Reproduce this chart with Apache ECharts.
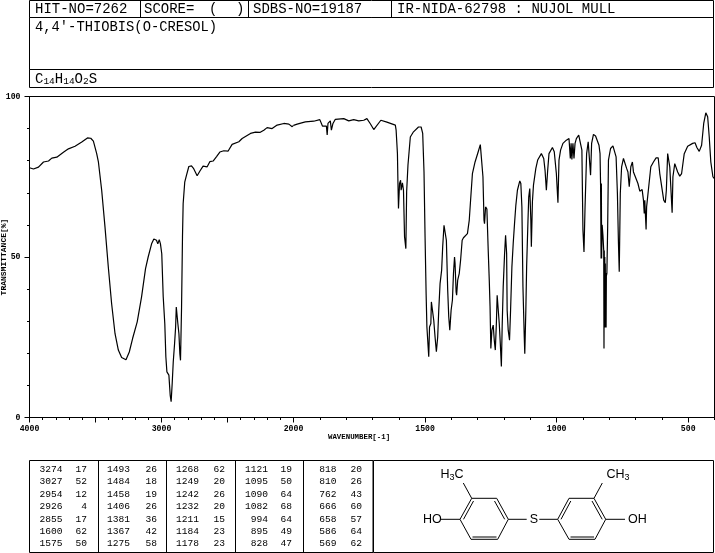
<!DOCTYPE html>
<html>
<head>
<meta charset="utf-8">
<style>html,body{margin:0;padding:0;background:#fff}#c{width:715px;height:553px}</style>
<script src="https://cdn.jsdelivr.net/npm/echarts@6/dist/echarts.min.js"></script>
</head>
<body>
<div id="c"></div>
<script>
// wavenumber (cm-1)
const wavenumbers = [
4000,3970,3932,3894,3856,3831,3793,3743,3705,3655,3604,3561,3536,3516,3491,3478,3453,3428,3403,3378,3352,3327,3302,3269,3244,3219,3184,3151,3121,3101,3075,3058,3038,3028,3017,3008,2998,2987,2975,2967,2959,2944,2934,2927,2919,2911,2901,2893,2888,2881,2876,2868,2861,2856,2848,2841,2836,2824,2811,2793,2773,2756,2730,2710,2685,2654,2634,2609,2583,2558,2528,2495,2465,2452,2414,2389,2326,2288,2255,2225,2200,2162,2124,2073,2035,2010,2000,
1986,1955,1923,1900,1890,1875,1872,1869,1860,1856,1850,1841,1809,1790,1771,1752,1733,1721,1708,1695,1688,1668,1645,1613,1610,1605,1603,1601,1597,1593,1591,1586,1582,1578,1573,1570,1565,1556,1544,1525,1515,1509,1504,1500,1496,1493,1490,1486,1483,1478,1476,1471,1467,1462,1457,1452,1448,1443,1437,1433,1428,1423,1419,1414,1410,1406,1401,1396,1392,1388,1386,1382,1380,1376,1370,1365,1359,1354,1347,1339,1332,1327,1320,1310,1298,1290,1284,1280,1276,1274,1270,1265,1260,1256,1253,1250,1246,1241,1237,1233,1229,1226,1222,1218,1214,1210,1207,1203,1198,1194,1190,1188,1184,1179,1175,1170,1165,1160,1155,1149,1140,1136,1132,1128,1123,1121,1117,1114,1109,1106,1102,1098,1096,1092,1088,1083,1079,1072,1058,1049,1044,1039,1034,1029,1016,1009,1001,995,991,985,976,963,953,948,945,942,938,934,930,925,916,910,904,900,896,892,886,880,875,871,867,860,852,839,835,833,831,830,829,827,824,821,820,819,818,817,816,815,814,813,812,811,809,806,803,795,786,779,774,769,765,762,758,753,746,739,734,729,724,718,712,708,702,691,684,675,670,667,665,660,658,650,642,632,622,614,608,603,593,587,583,578,573,570,561,558,551,540,532,525,515,502,483,474,467,458,449,441,433,426,420,414,406,402
];
// transmittance (%)
const transmittance = [
77.8,77.4,78.0,79.6,79.9,80.8,81.1,82.6,83.7,84.5,85.8,87.1,87.0,86.1,82.2,79.6,70.7,59.3,46.9,35.5,26.1,21.0,18.7,18.0,20.4,24.6,29.8,37.6,46.4,50.0,54.1,55.6,55.2,54.1,55.4,54.1,51.0,37.6,29.2,18.9,14.2,13.2,6.9,4.9,10.6,17.3,23,28.2,34.4,34.6,29.2,26.1,19.9,17.8,34.4,56.2,66.6,73.3,75.4,78.2,78.4,77.5,75.3,76.7,78.3,78.1,79.7,79.9,81.3,82.7,83.1,83,85.1,85.4,85.9,86.9,88.5,88.9,88.8,89.5,90.3,90,91.1,91.6,91.4,90.6,91,
91.4,92.1,92.3,92.8,90.8,90.8,88,91.6,92.4,89.5,91.6,92.9,93.1,92.4,92.8,92.4,92.6,93.1,91.5,89.7,90,92.6,92,91.1,89.5,82.2,72.9,65.1,72.9,73.9,70.8,73.1,70.8,56.3,52.6,70.3,78.6,87.4,89,90.5,90.5,88.5,76.5,56.3,38.6,28.2,27.7,18.9,28.2,29.3,36,36.6,30.3,25.1,20.5,25.1,33.4,41.7,45.9,53.2,59.9,59.4,55.2,39.7,31.4,27.2,33.4,36.6,44.9,50,48,39.1,38.1,42.8,44.9,49,55.2,56,55.8,57.3,61.5,67.7,76,79.6,82.8,85,84.8,75,61.5,60.4,65.6,64.9,52.1,42.8,34.5,21.5,27.2,28.8,24.1,21,29.3,38.1,38.6,29.3,23,15.9,28.2,40.7,50.6,56.8,51.1,33.4,27.2,24.1,33.4,46.9,54.2,60.4,66.1,70.8,73.7,72.9,65.6,40.7,25.1,19.9,33.4,46.9,61,68.7,71.3,61.5,53.2,67.2,72.4,72.4,77.6,80.2,82.2,80.7,77,70.8,77,82.2,84.1,82.8,76,66.9,80.2,83.3,85.4,86.4,86.9,80.7,85.4,80.4,85.4,80.7,85.4,86.9,88,87.7,83.3,58.4,51.6,65.6,82.2,85.9,85.4,75.5,85.4,88.2,87.7,84.8,82.2,72.9,49.5,72.9,49.5,60,56.8,52,21.5,52,28,50,28,48,28,45,28,44,44.9,59.4,80.2,83.8,84.6,84.3,81.2,69.8,54.2,45.4,69.8,78.1,80.7,80.5,77.6,76.5,71.9,78.1,79.6,76.5,76.2,72.9,70.5,71,67.7,63.6,67.7,58.6,65.6,71.9,78.1,79.6,80.9,80.9,76,75.5,67.7,66.9,70.8,82.2,82.2,78.1,63.8,75,79.1,76.5,75.2,76,82.2,84.5,85.4,85.6,84.1,82.9,84.8,91.6,94.9,93.7,87.4,79.6,75,74.5
];
const yTicks = [0, 50, 100];
const leftAxisLabels = [4000, 3000];
const rightAxisLabels = [2000, 1500, 1000, 500];
const leftMajorTicks = [4000, 3500, 3000, 2500];
const rightMajorTicks = [2000, 1500, 1000, 500];
const peakWavenumbers = [
  [3274,3027,2954,2926,2855,1600,1575],
  [1493,1484,1458,1406,1381,1367,1275],
  [1268,1249,1242,1232,1211,1184,1178],
  [1121,1095,1090,1082,994,895,828],
  [818,810,762,666,658,586,569]
];
const peakTransmittance = [
  [17,52,12,4,17,62,50],
  [26,18,19,26,36,42,58],
  [62,20,26,20,15,23,23],
  [19,50,64,68,64,49,47],
  [20,26,43,60,57,64,62]
];
const hitText = 'HIT-NO=7262', scoreText = 'SCORE=', sdbsText = 'SDBS-NO=19187', irText = 'IR-NIDA-62798 : NUJOL MULL';
const compoundName = "4,4'-THIOBIS(O-CRESOL)";
const xAxisName = 'WAVENUMBER[-1]', yAxisName = 'TRANSMITTANCE[%]';

const MONO = '"Liberation Mono","DejaVu Sans Mono",monospace';
const SANS = '"Liberation Sans","DejaVu Sans",sans-serif';
const chart = echarts.init(document.getElementById('c'), null, {renderer: 'canvas', width: 715, height: 553});

const pairs = wavenumbers.map((w, i) => [w, transmittance[i]]);
const highRange = pairs.filter(p => p[0] >= 2000);
const lowRange = pairs.filter(p => p[0] <= 2000);

const line = (x1, y1, x2, y2, w) => ({type: 'line', silent: true, shape: {x1, y1, x2, y2}, style: {stroke: '#000', lineWidth: w || 1}});
const box = (x, y, width, height) => ({type: 'rect', silent: true, shape: {x, y, width, height}, style: {fill: 'none', stroke: '#000', lineWidth: 1}});
const text = (x, y, t, size, opt) => ({type: 'text', silent: true, x, y, style: Object.assign({text: t, fill: '#000', font: size + 'px ' + MONO, verticalAlign: 'middle', align: 'left'}, opt || {})});

const graphics = [
  // header
  box(29.5, 0.5, 684, 17), box(29.5, 17.5, 684, 52), box(29.5, 69.5, 684, 18),
  line(140.5, 0, 140.5, 17.5), line(248.5, 0, 248.5, 17.5), line(391.5, 0, 391.5, 17.5),
  text(35, 9, hitText, 14), text(144, 9, scoreText, 14), text(209, 9, '(', 14), text(236, 9, ')', 14),
  text(253, 9, sdbsText, 14), text(397, 9, irText, 14),
  text(35, 27, compoundName, 13.8),
  {type: 'text', silent: true, x: 35, y: 79, style: {
    text: 'C{s|14}H{s|14}O{s|2}S', fill: '#000', font: '14px ' + MONO, verticalAlign: 'middle', align: 'left',
    rich: {s: {font: '9.5px ' + MONO, fill: '#000', verticalAlign: 'bottom', padding: [5, 0, 0, 0]}}
  }},
  // plot frame
  line(29.5, 96.5, 714.5, 96.5, 1), line(714.5, 96.5, 714.5, 417.5, 1),
  // axis names
  text(328, 437, xAxisName, 7.4, {font: 'bold 7.4px ' + MONO}),
  {type: 'text', silent: true, x: 4, y: 257, rotation: Math.PI / 2, style: {text: yAxisName, fill: '#000', font: 'bold 8px ' + MONO, align: 'center', verticalAlign: 'middle'}},
  // peak table frames
  box(29.5, 460.5, 343.5, 92), box(373.5, 460.5, 340, 92),
  line(98.5, 460.5, 98.5, 552.5, 1), line(166.5, 460.5, 166.5, 552.5, 1), line(235.5, 460.5, 235.5, 552.5, 1), line(303.5, 460.5, 303.5, 552.5, 1)
];

// peak table text
const colRightW = [62.5, 130, 199, 268, 336.5];
const colRightT = [87, 157, 225, 292, 362];
peakWavenumbers.forEach((col, c) => col.forEach((w, r) => {
  const y = 469.5 + r * 12.4;
  graphics.push(text(colRightW[c], y, String(w), 9.6, {align: 'right'}));
  graphics.push(text(colRightT[c], y, String(peakTransmittance[c][r]), 9.6, {align: 'right'}));
}));

// molecule
const T = 1;
graphics.push(
  line(460,519.3,471.7,498.3,T), line(471.7,498.3,496.7,498.3,T), line(496.7,498.3,508.3,519.3,T),
  line(508.3,519.3,497.7,539.3,T), line(497.7,539.3,471,539.3,T), line(471,539.3,460,519.3,T),
  line(463.5,519.3,473.5,501,T), line(494.5,501,504.7,519.3,T), line(472.5,537,496.5,537,T),
  line(557.7,519.3,569,498.3,T), line(569,498.3,594,498.3,T), line(594,498.3,605.7,519.3,T),
  line(605.7,519.3,595,539.3,T), line(595,539.3,569,539.3,T), line(569,539.3,557.7,519.3,T),
  line(561,519.3,570.8,501,T), line(592,501,602.2,519.3,T), line(570.5,537,594,537,T),
  line(441,519.3,460,519.3,T), line(471.7,498.3,463.3,483,T), line(508.3,519.3,526.7,519.3,T),
  line(539.3,519.3,557.7,519.3,T), line(594,498.3,602.3,483,T), line(605.7,519.3,625,519.3,T),
  text(423, 519.5, 'HO', 12.5, {font: '12.5px ' + SANS}),
  text(534, 519.5, 'S', 12.5, {font: '12.5px ' + SANS, align: 'center'}),
  text(628, 519.5, 'OH', 12.5, {font: '12.5px ' + SANS}),
  {type: 'text', silent: true, x: 440.5, y: 475, style: {text: 'H{s|3}C', fill: '#000', font: '12.5px ' + SANS, verticalAlign: 'middle', rich: {s: {font: '9px ' + SANS, fill: '#000', padding: [5, 0, 0, 0]}}}},
  {type: 'text', silent: true, x: 606.5, y: 475, style: {text: 'CH{s|3}', fill: '#000', font: '12.5px ' + SANS, verticalAlign: 'middle', rich: {s: {font: '9px ' + SANS, fill: '#000', padding: [5, 0, 0, 0]}}}}
);

const axisLine = {show: true, onZero: false, lineStyle: {color: '#000', width: 1}};
const plain = v => String(v);
const minorX = (gridIndex, min, max) => ({
  type: 'value', gridIndex, inverse: true, min, max, interval: 100, position: 'bottom',
  axisLine, splitLine: {show: false}, axisLabel: {show: false},
  axisTick: {show: true, length: 2.5, lineStyle: {color: '#000', width: 1}}
});
const majorX = (gridIndex, min, max, ticks, labels) => ({
  type: 'value', gridIndex, inverse: true, min, max, position: 'bottom',
  axisLine: {show: false, onZero: false}, splitLine: {show: false},
  axisTick: {show: true, customValues: ticks, length: 5, lineStyle: {color: '#000', width: 1}},
  axisLabel: {show: true, customValues: labels, formatter: plain, margin: 7, color: '#000', fontFamily: MONO, fontWeight: 'bold', fontSize: 8.2, hideOverlap: false, showMinLabel: true, showMaxLabel: true}
});

chart.setOption({
  animation: false,
  backgroundColor: '#fff',
  grid: [
    {left: 29.5, top: 96.5, width: 264, height: 321, containLabel: false},
    {left: 293.5, top: 96.5, width: 421, height: 321, containLabel: false}
  ],
  xAxis: [
    minorX(0, 2000, 4000), minorX(1, 400, 2000),
    majorX(0, 2000, 4000, leftMajorTicks, leftAxisLabels),
    majorX(1, 400, 2000, rightMajorTicks, rightAxisLabels)
  ],
  yAxis: [
    {type: 'value', gridIndex: 0, min: 0, max: 100, interval: 50,
     axisLine, splitLine: {show: false},
     axisTick: {show: true, length: 5, lineStyle: {color: '#000', width: 1}},
     minorTick: {show: true, splitNumber: 5, length: 2.5, lineStyle: {color: '#000', width: 1}},
     axisLabel: {show: true, margin: 9, color: '#000', fontFamily: MONO, fontWeight: 'bold', fontSize: 8.2,
       customValues: yTicks, formatter: plain, showMinLabel: true, showMaxLabel: true}},
    {type: 'value', gridIndex: 1, min: 0, max: 100, interval: 50, show: false}
  ],
  series: [
    {type: 'line', xAxisIndex: 0, yAxisIndex: 0, data: highRange, showSymbol: false, symbol: 'none', smooth: false,
     lineStyle: {color: '#000', width: 1.2}, silent: true, clip: true},
    {type: 'line', xAxisIndex: 1, yAxisIndex: 1, data: lowRange, showSymbol: false, symbol: 'none', smooth: false,
     lineStyle: {color: '#000', width: 1.2}, silent: true, clip: true}
  ],
  graphic: {elements: graphics}
});
</script>
</body>
</html>
